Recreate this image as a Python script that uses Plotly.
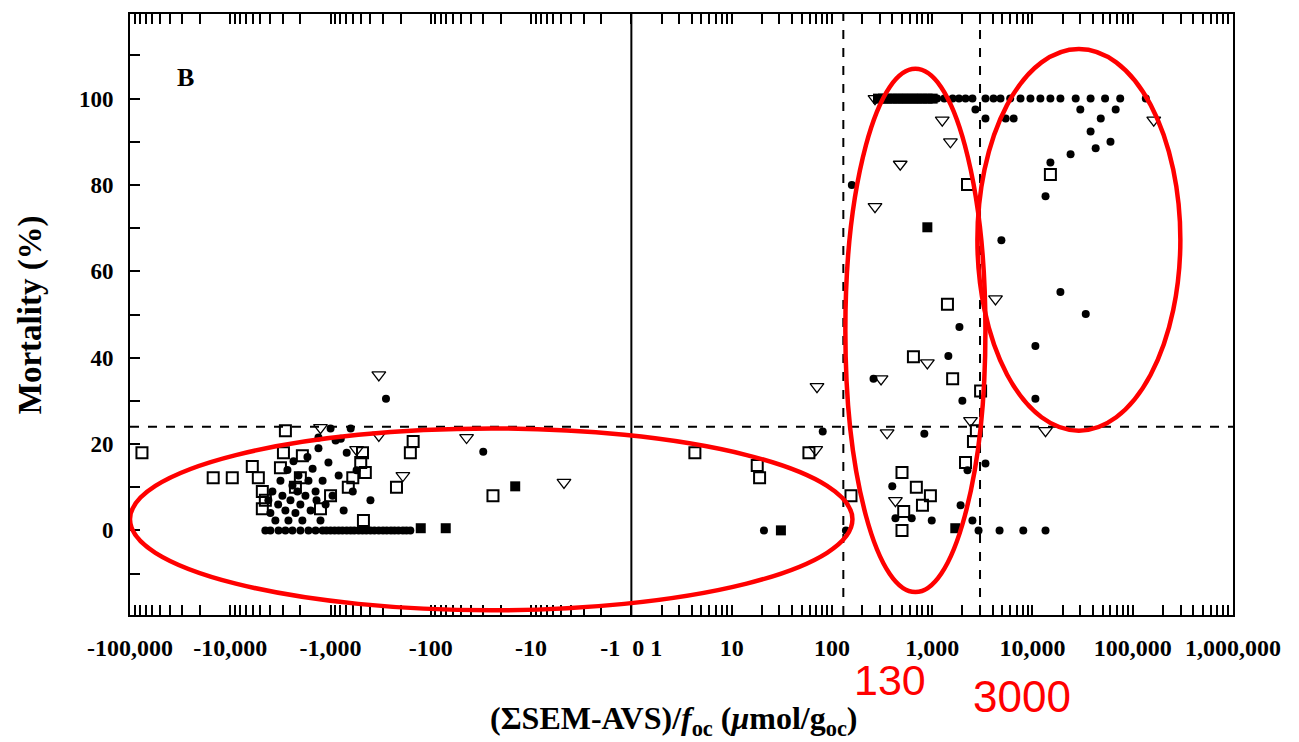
import numpy as np
import plotly.graph_objects as go

# ---------------- data (x in umol/g_oc, y = mortality %) ----------------
circ_x = [-4470, -3980, -3300, -2820, -2400, -2000, -1660, -1410, -1200, -1100, -1000, -910,
          -830, -760, -690, -630, -580, -525, -480, -440, -400, -365, -330, -300, -275, -250,
          -230, -210, -190, -175, -160,
          -4170, -3980, -3800, -3550, -3330, -3160, -3020, -2820, -2690, -2630, -2510, -2400,
          -2340, -2240, -2140, -2090, -2000, -1910, -1780, -1700, -1660, -1580, -1510, -1410,
          -1380, -1320, -1260, -1200, -1120, -1050, -955, -890, -830, -790, -740, -690, -630,
          -600, -550, -400, -280, -30, -1000, -1320,
          21, 138, 2900, 4700, 8100, 13500,
          81, 158, 260, 400, 430, 625, 835, 990, 1450, 1870, 2000, 1920, 2250, 2520, 3400,
          4900, 2700, 3400, 5400, 6500, 10700, 10700, 13500, 15100, 19000, 24000, 30000,
          38000, 34000, 42700, 60000, 67600, 48000,
          1120, 1320, 1600, 1850, 2150, 2520, 3400, 4090, 4800, 6000, 7600, 9550, 12000,
          15100, 19000, 27000, 38000, 53000, 75000, 135000]
circ_y = [0] * 31 + [
          7, 4, 9, 2.3, 6, 11.5, 8, 4.6, 14, 2.3, 7, 10.4,
          16, 4, 9, 12.7, 6, 2.3, 8, 17, 11.5, 4.6, 14.3, 9,
          7, 19, 2.3, 11.5, 6, 15.7, 8, 20.8, 12.7, 21.2, 4.6, 18, 23.6,
          9, 13.9, 7, 30.5, 18.2, 23.6, 21.5,
          0, 0, 0, 0, 0, 0,
          22.9, 80, 35.1, 10.2, 2.8, 2.8, 22.4, 2.3, 40.4, 47.1, 30, 5.8, 13.9, 2.3, 15.5,
          67.2, 97.5, 95.4, 95.4, 95.4, 42.7, 30.5, 77.4, 85.2, 55.2, 87.1, 97.5,
          92.4, 50.1, 88.5, 90, 97.5, 95.4] + [100] * 20

sqo_x = [-76000, -14800, -9550, -6030, -5250, -4790, -4470, -4790, -2820, -2950, -3160, -2240,
         -2000, -1910, -1260, -1000, -665, -600, -500, -480, -450, -470, -220, -160, -150, -24,
         4.3, 18, 19, 59, 155, 500, 520, 500, 695, 960, 800, 650, 1420, 1600, 2250, 2150,
         2580, 2760, 3040, 15100]
sqo_y = [18, 12.2, 12.2, 14.8, 12.2, 9, 7, 5, 23.1, 18, 14.5, 10,
         12.2, 17.3, 5, 8, 10, 12.2, 15.7, 18, 13.4, 2.3, 10, 18, 20.6, 8,
         18, 15, 12.2, 18, 8, 13.4, 4.4, 0, 10, 8, 5.8, 40.2, 52.4, 35.1, 80.1, 15.7,
         20.6, 23.1, 32.3, 82.4]

tri_x = [-1260, -330, -550, -330, -190, -44, -4.7,
         69, 71, 269, 269, 309, 355, 480, 430, 895, 1260, 1520, 2410, 4280, 13500, 162000]
tri_y = [23.8, 36, 18.7, 22, 12.7, 21.5, 11.1,
         18.7, 33.3, 100, 75, 35.1, 22.6, 84.8, 6.9, 38.8, 95, 90, 25.4, 53.6, 23.1, 95]

sqf_x = [-126, -71, -14.4, 31, 895, 1700,
         288, 323, 360, 405, 455, 510, 570, 640, 715, 800, 900, 1010]
sqf_y = [0.5, 0.5, 10.2, 0, 70.2, 0.5] + [100] * 12

thresholds = [130, 3000]          # vertical dashed lines
mortality_cut = 24                 # horizontal dashed line

x_labels = {-1e5: "-100,000", -1e4: "-10,000", -1e3: "-1,000", -100: "-100", -10: "-10",
            0: "-1  0 1", 10: "10", 100: "100", 1e3: "1,000", 1e4: "10,000",
            1e5: "100,000", 1e6: "1,000,000"}


def tr(v):
    """symmetric log transform used for the x axis"""
    v = np.asarray(v, dtype=float)
    return np.sign(v) * np.log10(np.maximum(np.abs(v), 1.0))


# tick positions (log minor ticks on both sides)
tick_vals_raw = [0.0]
for n in range(0, 5):
    for k in range(1, 10):
        if n == 0 and k == 1:
            continue
        tick_vals_raw.append(-k * 10.0 ** n)
tick_vals_raw.append(-1e5)
for n in range(0, 6):
    for k in range(1, 10):
        if n == 0 and k == 1:
            continue
        tick_vals_raw.append(k * 10.0 ** n)
tick_vals_raw.append(1e6)
tick_vals = [float(tr(v)) for v in tick_vals_raw]
tick_text = [x_labels.get(v, "") for v in tick_vals_raw]

SERIF = "Liberation Serif"

fig = go.Figure()
fig.add_trace(go.Scatter(x=tr(circ_x), y=circ_y, mode="markers",
                         marker=dict(symbol="circle", size=8, color="black")))
fig.add_trace(go.Scatter(x=tr(sqo_x), y=sqo_y, mode="markers",
                         marker=dict(symbol="square-open", size=11, color="black",
                                     line=dict(width=2, color="black"))))
fig.add_trace(go.Scatter(x=tr(tri_x), y=tri_y, mode="markers",
                         marker=dict(symbol="triangle-down-open", size=12, color="black",
                                     line=dict(width=1.3, color="black"))))
fig.add_trace(go.Scatter(x=tr(sqf_x), y=sqf_y, mode="markers",
                         marker=dict(symbol="square", size=10, color="black")))

# reference lines
fig.add_shape(type="line", xref="x", yref="paper", x0=0, x1=0, y0=0, y1=1,
              line=dict(color="black", width=2))
for t in thresholds:
    fig.add_shape(type="line", xref="x", yref="paper", x0=float(tr(t)), x1=float(tr(t)),
                  y0=0, y1=1, line=dict(color="black", width=2, dash="dash"))
fig.add_shape(type="line", xref="paper", yref="y", x0=0, x1=1, y0=mortality_cut,
              y1=mortality_cut, line=dict(color="black", width=2, dash="dash"))

# red highlight ellipses
ellipses = [(-5.0, 2.205, -18.5, 23.6), (2.134, 3.531, -14.3, 106.9), (3.451, 5.475, 23.1, 111.5)]
for x0, x1, y0, y1 in ellipses:
    fig.add_shape(type="circle", xref="x", yref="y", x0=x0, x1=x1, y0=y0, y1=y1,
                  line=dict(color="#FF0000", width=4.5))

fig.update_layout(
    width=1299, height=742,
    margin=dict(l=130, r=66, t=12, b=127),
    plot_bgcolor="white", paper_bgcolor="white",
    showlegend=False,
    xaxis=dict(range=[-5, 6], tickmode="array", tickvals=tick_vals, ticktext=tick_text,
               ticks="inside", ticklen=10, tickwidth=1.5, tickcolor="black",
               showline=True, linewidth=2, linecolor="black", mirror="allticks",
               showgrid=False, zeroline=False, ticklabelstandoff=10,
               tickfont=dict(family=SERIF, size=24, color="black", weight="bold")),
    yaxis=dict(range=[-19.6, 119.6], tickmode="array",
               tickvals=list(range(-10, 120, 10)),
               ticktext=[str(v) if v % 20 == 0 and 0 <= v <= 100 else "" for v in range(-10, 120, 10)],
               ticks="inside", ticklen=10, tickwidth=1.5, tickcolor="black",
               showline=True, linewidth=2, linecolor="black", mirror=True,
               showgrid=False, zeroline=False, ticklabelstandoff=10,
               tickfont=dict(family=SERIF, size=23, color="black", weight="bold")),
    annotations=[
        dict(text="Mortality (%)", xref="paper", yref="paper", x=-0.09, y=0.5,
             textangle=-90, showarrow=False, xanchor="center", yanchor="middle",
             font=dict(family=SERIF, size=33, color="black", weight="bold")),
        dict(text="(ΣSEM-AVS)/<i>f</i><sub>oc</sub> (<i>μ</i>mol/g<sub>oc</sub>)",
             xref="paper", yref="paper", x=0.493, y=-0.213, showarrow=False,
             xanchor="center", yanchor="bottom",
             font=dict(family=SERIF, size=32, color="black", weight="bold")),
        dict(text="B", xref="paper", yref="paper", x=0.05, y=0.895, showarrow=False,
             xanchor="center", yanchor="middle",
             font=dict(family=SERIF, size=26, color="black", weight="bold")),
        dict(text="130", xref="x", yref="paper", x=float(tr(130)) + 0.47, y=-0.108,
             showarrow=False, xanchor="center", yanchor="middle",
             font=dict(family="Liberation Sans", size=43, color="#FF0000")),
        dict(text="3000", xref="x", yref="paper", x=float(tr(3000)) + 0.42, y=-0.136,
             showarrow=False, xanchor="center", yanchor="middle",
             font=dict(family="Liberation Sans", size=44, color="#FF0000")),
    ],
)

fig.write_html("out.html")
